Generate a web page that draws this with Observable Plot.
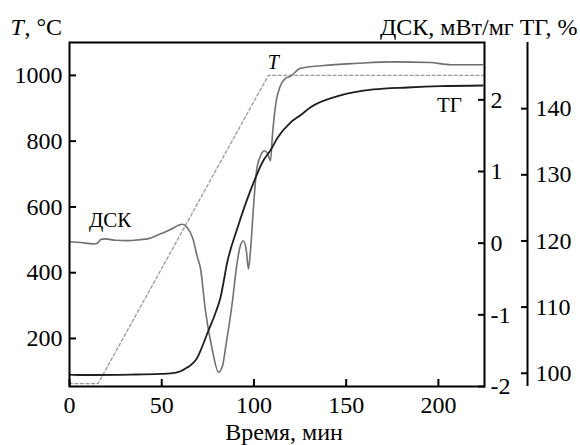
<!DOCTYPE html>
<html>
<head>
<meta charset="utf-8">
<script src="https://cdn.jsdelivr.net/npm/d3@7"></script>
<script src="https://cdn.jsdelivr.net/npm/@observablehq/plot@0.6"></script>
<style>
  html, body { margin: 0; padding: 0; background: #fff; }
  #chart { width: 580px; height: 445px; }
</style>
</head>
<body>
<div id="chart"></div>
<script>
// ---- data ----
const timeDomain = [0, 225];           // Время, мин
const tempDomain = [54, 1100];         // T, °C (left axis)
const dscDomain = [-2, 2.8];           // ДСК, мВт/мг
const tgDomain = [98, 150];            // ТГ, %

const xTicks = [0, 50, 100, 150, 200];
const tempTicks = [200, 400, 600, 800, 1000];
const dscTicks = [-2, -1, 0, 1, 2];
const tgTicks = [100, 110, 120, 130, 140];

// Temperature program (dotted)
const tTime = [0, 15.5, 107.8, 225];
const tTemp = [63, 63, 1000, 1000];

// DSC curve
const dscTime = [0.5, 6, 13, 15.2, 16.8, 19.5, 25, 31.4, 38.5, 42.3, 49.3, 54.8, 59.1, 61.3, 63.4, 66.7, 69.4, 71, 73.7, 77.5, 80.8, 83, 84.6, 88.4, 90.5, 92.7, 94.3, 95.9, 97, 98.1, 99.8, 101.4, 103.6, 105.7, 107.4, 109, 110, 111.7, 114.4, 117.1, 119.8, 125.2, 137.7, 156.1, 175.7, 195.7, 206.6, 224];
const dscValue = [0.02, 0.01, -0.01, 0.0, 0.05, 0.06, 0.04, 0.035, 0.05, 0.06, 0.13, 0.19, 0.25, 0.265, 0.23, 0.08, -0.20, -0.35, -0.94, -1.50, -1.80, -1.71, -1.46, -0.80, -0.34, -0.03, 0.03, -0.11, -0.36, -0.11, 0.52, 1.01, 1.22, 1.29, 1.25, 1.15, 1.50, 1.92, 2.20, 2.30, 2.33, 2.44, 2.48, 2.51, 2.53, 2.52, 2.49, 2.49];

// TG curve
const tgTime = [0, 6, 13, 33, 49.3, 54.8, 60.2, 64, 65.6, 69.4, 71, 75.4, 78.6, 81.9, 85.7, 91.1, 98.1, 105.2, 109, 112.8, 119.8, 125.2, 130.7, 146.9, 164.8, 183.3, 201.2, 224];
const tgValue = [99.8, 99.74, 99.74, 99.8, 99.9, 99.97, 100.3, 100.9, 101.2, 102.4, 103.4, 106.5, 108.7, 111.5, 117.0, 122.0, 127.6, 132.2, 133.7, 135.6, 137.9, 139.0, 140.2, 142.0, 142.9, 143.2, 143.4, 143.5];

// in-plot curve labels
const curveLabels = ["T", "ДСК", "ТГ"];
const labelTime = [110.5, 22, 206];
const labelTemp = [1040, 560, 910];

// ---- map secondary axes onto the temperature scale ----
const dscToT = d3.scaleLinear(dscDomain, tempDomain);
const tgToT = d3.scaleLinear(tgDomain, tempDomain);

const tData = tTime.map((t, i) => ({t, v: tTemp[i]}));
const dscData = dscTime.map((t, i) => ({t, v: dscToT(dscValue[i])}));
const tgData = tgTime.map((t, i) => ({t, v: tgToT(tgValue[i])}));
const labData = curveLabels.map((s, i) => ({s, t: labelTime[i], v: labelTemp[i]}));

const FONT = "Liberation Serif";

const chart = Plot.plot({
  width: 580,
  height: 445,
  marginLeft: 69,
  marginRight: 96,
  marginTop: 42,
  marginBottom: 59,
  style: {fontSize: "24px", color: "#000", background: "#fff", overflow: "visible"},
  x: {domain: timeDomain},
  y: {domain: tempDomain},
  marks: [
    // curves
    Plot.line(tData, {x: "t", y: "v", stroke: "#9a9a9a", strokeWidth: 1.3, strokeDasharray: "3,2.5"}),
    Plot.line(dscData, {x: "t", y: "v", stroke: "#707070", strokeWidth: 1.6, curve: "monotone-x"}),
    Plot.line(tgData, {x: "t", y: "v", stroke: "#1e1e1e", strokeWidth: 1.8, curve: "monotone-x"}),

    // frame
    Plot.frame({stroke: "#000", strokeWidth: 2}),

    // bottom axis
    Plot.axisX({ticks: xTicks, tickSize: -7, tickPadding: 16, strokeWidth: 2, label: null, fontSize: 24,
      tickFormat: (d) => String(d)}),
    // left axis (T)
    Plot.axisY({ticks: tempTicks, tickSize: -7, tickPadding: 14, strokeWidth: 2, label: null, fontSize: 24,
      tickFormat: (d) => String(d)}),
    // right axis (DSC) on frame edge
    Plot.axisY(dscTicks.map(dscToT), {anchor: "right", tickSize: -7, tickPadding: 13, strokeWidth: 2,
      tickFormat: (d) => String(Math.round(dscToT.invert(d))), label: null, fontSize: 24}),
    // outer right axis (TG)
    Plot.ruleX([timeDomain[1]], {dx: 43, stroke: "#000", strokeWidth: 2}),
    Plot.axisY(tgTicks.map(tgToT), {anchor: "right", dx: 43, tickSize: -7, tickPadding: 15, strokeWidth: 2,
      tickFormat: (d) => String(Math.round(tgToT.invert(d))), label: null, fontSize: 24}),

    // curve labels
    Plot.text(labData.slice(0, 1), {x: "t", y: "v", text: "s", fontSize: 20, fontStyle: "italic", fill: "#000"}),
    Plot.text(labData.slice(1), {x: "t", y: "v", text: "s", fontSize: 21, fill: "#000"}),

    // axis titles
    Plot.text(["T"], {frameAnchor: "top-left", dx: -59, dy: -8, textAnchor: "start", lineAnchor: "bottom", fontSize: 24, fontStyle: "italic", fill: "#000"}),
    Plot.text([", °C"], {frameAnchor: "top-left", dx: -45, dy: -8, textAnchor: "start", lineAnchor: "bottom", fontSize: 24, fill: "#000"}),
    Plot.text(["ДСК, мВт/мг ТГ, %"], {frameAnchor: "top-right", dx: 93, dy: -8, textAnchor: "end", lineAnchor: "bottom", fontSize: 24, fill: "#000"}),
    Plot.text(["Время, мин"], {frameAnchor: "bottom", dx: 7, dy: 53, textAnchor: "middle", lineAnchor: "bottom", fontSize: 24, fill: "#000"})
  ]
});

// force the serif face: drop the generated class, set family on svg, groups, texts,
// and wrap each text's content in a tspan carrying its own font-family
chart.removeAttribute("class");
chart.setAttribute("font-family", FONT);
chart.style.setProperty("font-family", FONT, "important");
d3.select(chart).selectAll("g").attr("font-family", FONT);
d3.select(chart).selectAll("text").each(function () {
  this.setAttribute("font-family", FONT);
  this.style.setProperty("font-family", FONT, "important");
  if (this.childElementCount === 0) {
    const s = this.textContent;
    this.textContent = "";
    const ts = document.createElementNS("http://www.w3.org/2000/svg", "tspan");
    ts.setAttribute("font-family", FONT);
    ts.style.setProperty("font-family", FONT, "important");
    ts.textContent = s;
    this.appendChild(ts);
  }
});

document.getElementById("chart").appendChild(chart);
</script>
</body>
</html>
